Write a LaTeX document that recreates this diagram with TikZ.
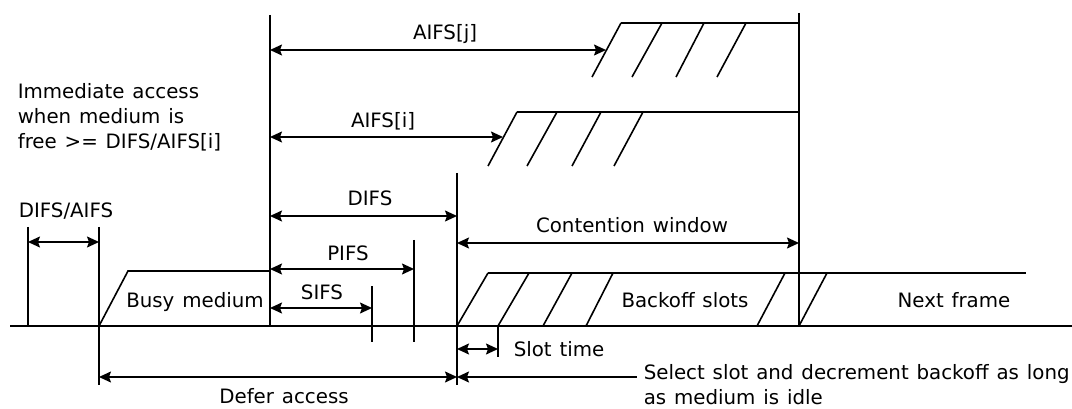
\documentclass[tikz,border=0pt]{standalone}
\usepackage{fontspec}
\setmainfont[WordSpace={1.25,1,1}]{DejaVu Sans}
\usetikzlibrary{arrows.meta}
\begin{document}
\begin{tikzpicture}[x=1pt,y=-1pt,line width=1.6pt,line cap=butt,
  lbl/.style={font=\fontsize{19.8}{25}\selectfont,inner sep=0pt},
  tip/.tip={Stealth[length=12pt,width=11pt,inset=2pt]},
  dim/.style={tip-tip},
  lft/.style={tip-}]
\useasboundingbox (0,0) rectangle (1072,409);

% time axis
\coordinate (ax0) at (10,326);
\coordinate (ax1) at (1072,326);
\draw (ax0) -- (ax1);

% vertical markers
\coordinate (tA) at (28,227);   \coordinate (bA) at (28,326);
\coordinate (tB) at (99,227);   \coordinate (bB) at (99,385);
\coordinate (tC) at (270,15);   \coordinate (bC) at (270,326);
\coordinate (tS) at (372,286);  \coordinate (bS) at (372,342);
\coordinate (tP) at (414,240);  \coordinate (bP) at (414,342);
\coordinate (tD) at (457,173);  \coordinate (bD) at (457,385);
\coordinate (tL) at (498,326);  \coordinate (bL) at (498,357);
\coordinate (tW) at (799,13);   \coordinate (bW) at (799,326);
\foreach \v in {A,B,C,S,P,D,L,W} \draw (t\v) -- (b\v);

% busy medium
\coordinate (bm1) at (128,271);
\coordinate (bm2) at (270,271);
\draw (bB |- ax0) -- (bm1) -- (bm2);

% backoff slots and next frame
\coordinate (bo0) at (488,273);
\coordinate (bo1) at (1026,273);
\draw (bo0) -- (bo1);
\foreach \xb/\xt in {457/488,498/529,543/572,586/613,757/785,799/827}
  \draw (\xb,326) -- (\xt,273);

% AIFS[i] slots
\coordinate (ai0) at (517,112);
\coordinate (ai1) at (799,112);
\draw (ai0) -- (ai1);
\foreach \xb/\xt in {488/517,527/557,572/601,614/643}
  \draw (\xb,166) -- (\xt,112);

% AIFS[j] slots
\coordinate (aj0) at (621,23);
\coordinate (aj1) at (799,23);
\draw (aj0) -- (aj1);
\foreach \xb/\xt in {592/621,632/662,676/704,717/746}
  \draw (\xb,77) -- (\xt,23);

% interval arrows
\coordinate (da1) at (28,242);  \coordinate (da2) at (99,242);
\coordinate (aj2) at (270,50);  \coordinate (aj3) at (606,50);
\coordinate (ai2) at (270,137); \coordinate (ai3) at (503,137);
\coordinate (df1) at (270,216); \coordinate (df2) at (457,216);
\coordinate (pf1) at (270,269); \coordinate (pf2) at (414,269);
\coordinate (sf1) at (270,308); \coordinate (sf2) at (372,308);
\coordinate (cw1) at (457,243); \coordinate (cw2) at (799,243);
\coordinate (st1) at (457,349); \coordinate (st2) at (498,349);
\coordinate (de1) at (99,377);  \coordinate (de2) at (457,377);
\coordinate (se1) at (457,377); \coordinate (se2) at (637,377);
\draw[dim] (da1) -- (da2);
\draw[dim] (aj2) -- (aj3);
\draw[dim] (ai2) -- (ai3);
\draw[dim] (df1) -- (df2);
\draw[dim] (pf1) -- (pf2);
\draw[dim] (sf1) -- (sf2);
\draw[dim] (cw1) -- (cw2);
\draw[dim] (st1) -- (st2);
\draw[dim] (de1) -- (de2);
\draw[lft] (se1) -- (se2);

% labels (multi-line nodes sit on the baseline of their last line)
\node[lbl,anchor=base west,align=left] (imm) at (17,149)
  {Immediate access\\when medium is\\free >= DIFS/AIFS[i]};
\node[lbl,anchor=base] (lda) at (66,218) {DIFS/AIFS};
\node[lbl,anchor=base] (laj) at (445,40) {AIFS[j]};
\node[lbl,anchor=base] (lai) at (383,128) {AIFS[i]};
\node[lbl,anchor=base] (ldf) at (370,206) {DIFS};
\node[lbl,anchor=base] (lpf) at (348,260) {PIFS};
\node[lbl,anchor=base] (lsf) at (322,299) {SIFS};
\node[lbl,anchor=base] (lbm) at (195,307) {Busy medium};
\node[lbl,anchor=base] (lcw) at (632,233) {Contention\ window};
\node[lbl,anchor=base] (lbo) at (685,307) {Backoff slots};
\node[lbl,anchor=base] (lnf) at (954,307) {Next frame};
\node[lbl,anchor=base west] (lst) at (513,356) {Slot time};
\node[lbl,anchor=base] (lde) at (284,403) {Defer access};
\node[lbl,anchor=base west,align=left] (lse) at (643,404)
  {Select slot and decrement backoff as long\\as medium is idle};
\end{tikzpicture}
\end{document}
